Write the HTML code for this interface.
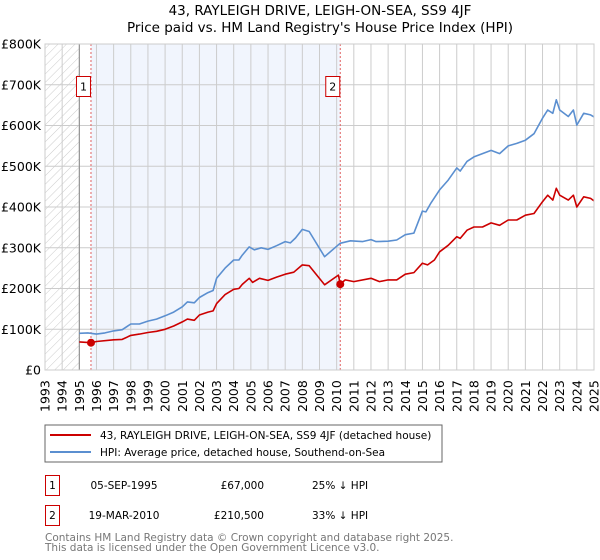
<!DOCTYPE html>
<html><head><meta charset="utf-8"><style>
body{margin:0;background:#fff;font-family:"DejaVu Sans","Liberation Sans",sans-serif;}
svg{display:block}
</style></head><body>
<svg id="chart" width="600" height="560" xmlns="http://www.w3.org/2000/svg">
<defs><pattern id="hatch" width="6" height="6" patternUnits="userSpaceOnUse" patternTransform="rotate(45)"><line x1="0" y1="0" x2="0" y2="6" stroke="#ccc" stroke-width="1"/></pattern></defs>
<text x="320" y="15" text-anchor="middle" font-size="13.5">43, RAYLEIGH DRIVE, LEIGH-ON-SEA, SS9 4JF</text>
<text x="320" y="32" text-anchor="middle" font-size="13.5">Price paid vs. HM Land Registry's House Price Index (HPI)</text>
<g id="plot"></g>
<rect x="45" y="425" width="397" height="37" fill="#fff" stroke="#666"/>
<line x1="50" y1="435" x2="91" y2="435" stroke="#cc0000" stroke-width="2"/>
<text x="100" y="439" font-size="10.5">43, RAYLEIGH DRIVE, LEIGH-ON-SEA, SS9 4JF (detached house)</text>
<line x1="50" y1="452" x2="91" y2="452" stroke="#5b8fd0" stroke-width="2"/>
<text x="100" y="456" font-size="10.5">HPI: Average price, detached house, Southend-on-Sea</text>
<g font-size="10.5">
<rect x="45.5" y="475.5" width="14" height="20" fill="#fff" stroke="#cc0000"/>
<text x="52.5" y="489" text-anchor="middle">1</text>
<text x="124" y="489" text-anchor="middle">05-SEP-1995</text>
<text x="264" y="489" text-anchor="end">£67,000</text>
<text x="312" y="489">25% ↓ HPI</text>
<rect x="45.5" y="505.5" width="14" height="20" fill="#fff" stroke="#cc0000"/>
<text x="52.5" y="519" text-anchor="middle">2</text>
<text x="124" y="519" text-anchor="middle">19-MAR-2010</text>
<text x="264" y="519" text-anchor="end">£210,500</text>
<text x="312" y="519">33% ↓ HPI</text>
</g>
<text x="45" y="541" font-size="10.5" fill="#777">Contains HM Land Registry data © Crown copyright and database right 2025.</text>
<text x="45" y="551" font-size="10.5" fill="#777">This data is licensed under the Open Government Licence v3.0.</text>
</svg>
<script>
const hpiYears=[1995,1995.5,1996,1996.5,1997,1997.5,1998,1998.5,1999,1999.5,2000,2000.5,2001,2001.3,2001.7,2002,2002.5,2002.8,2003,2003.5,2004,2004.3,2004.5,2004.9,2005.2,2005.6,2006,2006.5,2007,2007.3,2007.6,2008,2008.4,2009.3,2010.2,2010.8,2011.5,2012,2012.3,2013,2013.5,2014,2014.5,2015,2015.2,2015.5,2016,2016.5,2017,2017.2,2017.6,2018,2018.5,2019,2019.5,2020,2020.5,2021,2021.5,2022,2022.3,2022.6,2022.8,2023,2023.5,2023.8,2024,2024.4,2024.8,2025];
const hpiValues=[90,91,88,91,96,99,113,113,120,125,133,142,155,167,165,178,190,195,225,250,270,270,282,302,295,300,296,305,315,312,324,345,340,278,311,317,315,320,315,316,319,332,336,390,388,410,442,466,496,488,512,523,531,539,531,550,556,564,580,618,638,630,663,638,622,638,601,630,626,621];
const priceYears=[1995,1995.68,1996,1997,1997.5,1998,1998.5,1999,1999.5,2000,2000.5,2001,2001.3,2001.7,2002,2002.5,2002.8,2003,2003.5,2004,2004.3,2004.5,2004.9,2005.1,2005.5,2006,2006.5,2007,2007.5,2008,2008.4,2009.3,2010.1,2010.21,2010.5,2011,2012,2012.5,2013,2013.5,2014,2014.5,2015,2015.3,2015.7,2016,2016.5,2017,2017.2,2017.6,2018,2018.5,2019,2019.5,2020,2020.5,2021,2021.5,2022,2022.3,2022.6,2022.8,2023,2023.5,2023.8,2024,2024.4,2024.8,2025];
const priceValues=[69,67,70,74,75,85,88,92,95,100,108,118,125,122,135,142,145,163,185,198,200,210,225,215,225,220,228,235,240,258,256,209,233,210.5,221,217,225,217,221,221,235,239,262,258,270,290,306,327,323,343,351,351,361,355,368,368,380,384,413,429,417,446,429,417,429,400,425,421,415];
const saleYears=[1995.68,2010.21];
const saleValues=[67,210.5];
const saleLabels=["1","2"];
const yTicks=[0,100,200,300,400,500,600,700,800];
const yTickLabels=["£0","£100K","£200K","£300K","£400K","£500K","£600K","£700K","£800K"];
const xTicks=[1993,1994,1995,1996,1997,1998,1999,2000,2001,2002,2003,2004,2005,2006,2007,2008,2009,2010,2011,2012,2013,2014,2015,2016,2017,2018,2019,2020,2021,2022,2023,2024,2025];

const L=45,R=594,T=44,B=370;
const xs=y=>L+(y-1993)/(2025-1993)*(R-L);
const ys=v=>B-v/800*(B-T);
const NS="http://www.w3.org/2000/svg";
const g=document.getElementById('plot');
function mk(tag,attrs){const e=document.createElementNS(NS,tag);for(const k in attrs)e.setAttribute(k,attrs[k]);g.appendChild(e);return e;}
let e;
e=mk('rect',{x:L,y:T,width:R-L,height:B-T,fill:'#fff'});


e=mk('rect',{x:L,y:T,width:xs(1995)-L,height:B-T,fill:'url(#hatch)'});


e=mk('rect',{x:xs(saleYears[0]),y:T,width:xs(saleYears[1])-xs(saleYears[0]),height:B-T,fill:'#eef3fc',opacity:0.8});


xTicks.forEach(t=>{
  e=mk('line',{x1:xs(t),x2:xs(t),y1:T,y2:B,stroke:'#ccc','stroke-width':1});
  
  
  e=mk('text',{x:0,y:0,transform:`translate(${xs(t)+4.5},${B+42}) rotate(-90)`,'font-size':12.5});
  e.textContent=t;
  
  
});
yTicks.forEach((t,i)=>{
  e=mk('line',{x1:L,x2:R,y1:ys(t),y2:ys(t),stroke:'#ccc','stroke-width':1});
  
  
  e=mk('text',{x:L-4,y:ys(t)+4.5,'text-anchor':'end','font-size':12.5});
  e.textContent=yTickLabels[i];
  
  
});
e=mk('line',{x1:xs(1995),x2:xs(1995),y1:T,y2:B,stroke:'#888'});


saleYears.forEach((s,i)=>{
  e=mk('line',{x1:xs(s),x2:xs(s),y1:T,y2:B,stroke:'#e06060','stroke-dasharray':'2,2'});
  
  
});
function path(X,Y,color,name){
  const d=X.map((x,i)=>(i?'L':'M')+xs(x).toFixed(1)+','+ys(Y[i]).toFixed(1)).join('');
  e=mk('path',{d:d,fill:'none',stroke:color,'stroke-width':1.6,'stroke-linejoin':'round'});
  
  
}
path(hpiYears,hpiValues,'#5b8fd0','hpi-line');
path(priceYears,priceValues,'#cc0000','price-line');
saleYears.forEach((s,i)=>{
  e=mk('circle',{cx:xs(s),cy:ys(saleValues[i]),r:4,fill:'#cc0000'});
  
  
  e=mk('rect',{x:xs(s)-14.5,y:76.5,width:14,height:20,fill:'#fff',stroke:'#cc0000'});
  
  
  e=mk('text',{x:xs(s)-7.5,y:90.5,'text-anchor':'middle','font-size':11});
  e.textContent=saleLabels[i];
  
  
});
e=mk('rect',{x:L,y:T,width:R-L,height:B-T,fill:'none',stroke:'#ccc'});


</script>
</body></html>
